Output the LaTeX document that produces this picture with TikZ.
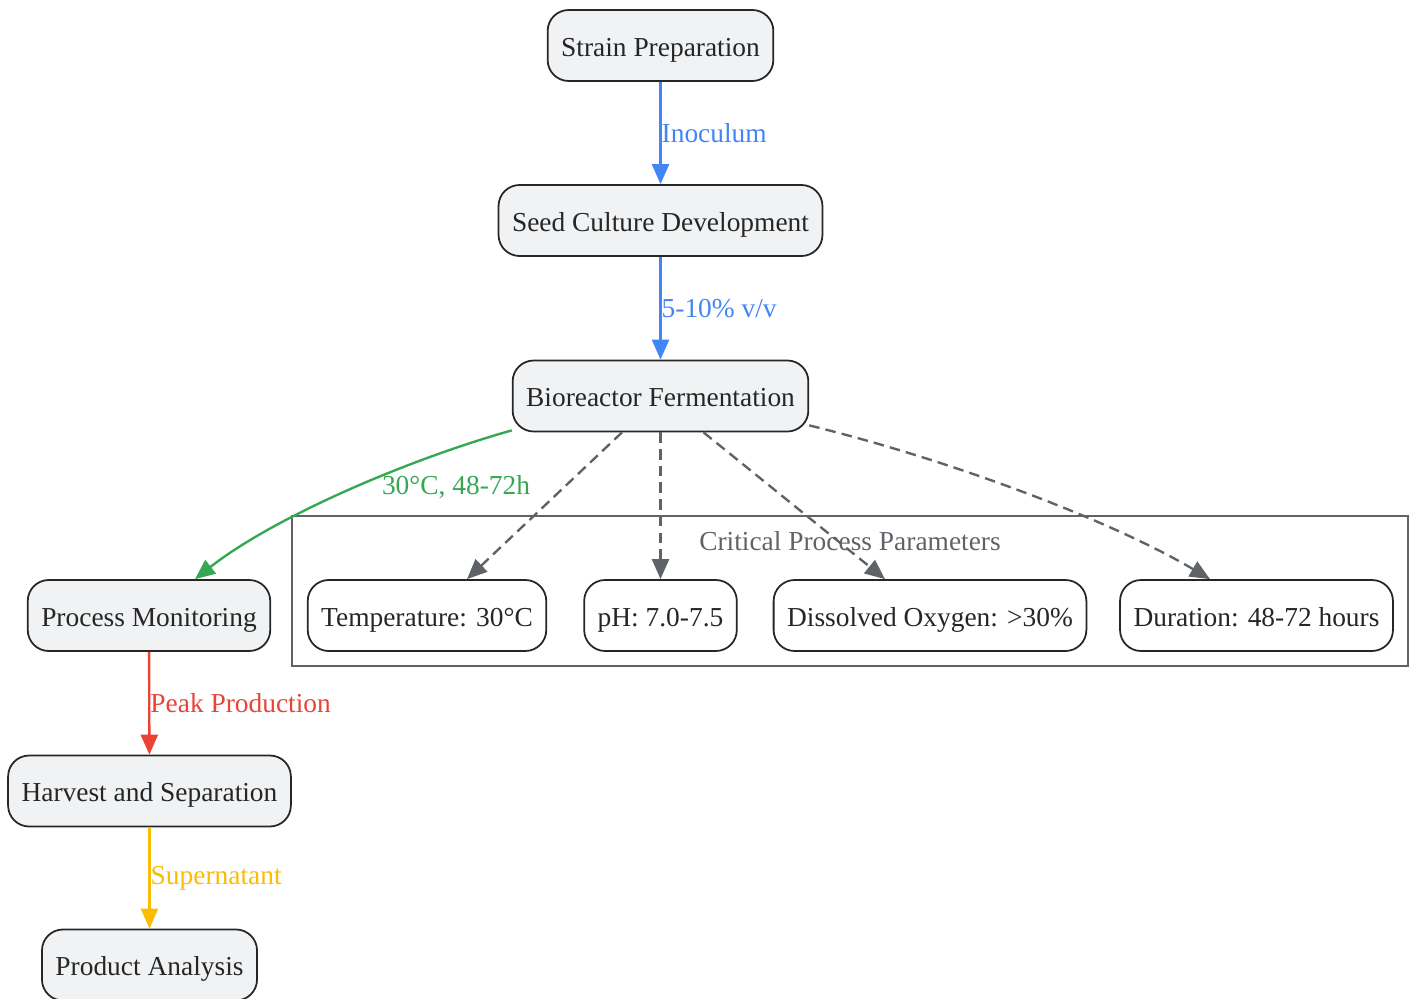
\documentclass[tikz,border=0pt]{standalone}
\usepackage{fontspec}
\setmainfont{Liberation Serif}
\usepackage{tikz}
\usetikzlibrary{arrows.meta,positioning,calc}

\definecolor{gblue}{HTML}{4285F4}
\definecolor{ggreen}{HTML}{34A853}
\definecolor{gred}{HTML}{EA4335}
\definecolor{gyellow}{HTML}{FBBC04}
\definecolor{ggray}{HTML}{5F6368}
\definecolor{nfill}{HTML}{F1F2F4}
\definecolor{ntext}{HTML}{262626}

\tikzset{
	stage/.style={draw=ntext, line width=1pt, fill=nfill, rounded corners=0.42cm,
		minimum height=1.42cm, inner xsep=0.27cm, text=ntext,
		text height=0.5cm, text depth=0.07cm,
		font=\fontsize{15.6}{18}\selectfont},
	param/.style={stage, fill=white},
	flow/.style={line width=1.35pt, -{Triangle[length=0.4cm,width=0.34cm]}},
	link/.style={flow, ggray, dashed, dash pattern=on 6pt off 3.5pt},
	lbl/.style={anchor=west, inner sep=0pt, font=\fontsize{15.6}{18}\selectfont}
}

\begin{document}
\begin{tikzpicture}
		\useasboundingbox (0,0) rectangle (28.26,-19.98);

		% cluster
		\draw[ggray, line width=0.9pt] (5.84,-10.32) rectangle (28.16,-13.32);
		\node[ggray, font=\fontsize{15.6}{18}\selectfont] (cpp) at (17.0,-10.82) {Critical Process Parameters};

		% main stages
		\node[stage] (strain) at (13.21,-0.91) {Strain Preparation};
		\node[stage] (seed) at (13.21,-4.41) {Seed Culture Development};
		\node[stage] (bio) at (13.21,-7.92) {Bioreactor Fermentation};
		\node[stage] (proc) at (2.98,-12.31) {Process Monitoring};
		\node[stage] (harv) at (2.99,-15.82) {Harvest and Separation};
		\node[stage] (prod) at (2.99,-19.3) {Product Analysis};

		% parameters
		\node[param] (temp) at (8.54,-12.31) {Temperature: 30°C};
		\node[param] (ph) at (13.21,-12.31) {pH: 7.0-7.5};
		\node[param] (do) at (18.6,-12.31) {Dissolved Oxygen: >30\%};
		\node[param] (dur) at (25.13,-12.31) {Duration: 48-72 hours};

		\draw[flow, gblue] (strain) -- (seed) node[lbl, pos=0.5]{Inoculum};
		\draw[flow, gblue] (seed) -- (bio) node[lbl, pos=0.5]{5-10\% v/v};
		\draw[flow, ggreen] ([yshift=0.04cm]bio.south west) .. controls (8.0,-9.24) and (5.4,-10.4) .. ([xshift=0.92cm]proc.north)
			node[lbl, anchor=north west, pos=0.35, xshift=-0.2cm, yshift=-0.04cm]{30°C, 48-72h};
		\draw[flow, gred] (proc) -- (harv) node[lbl, pos=0.5]{Peak Production};
		\draw[flow, gyellow] (harv) -- (prod) node[lbl, pos=0.5]{Supernatant};

		\draw[link] ([xshift=-0.77cm]bio.south) -- ([xshift=0.8cm]temp.north);
		\draw[link] (bio.south) -- (ph.north);
		\draw[link] ([xshift=0.86cm]bio.south) -- ([xshift=-0.9cm]do.north);
		\draw[link] ([yshift=0.14cm]bio.south east) .. controls (19.0,-9.2) and (22.2,-10.4) .. ([xshift=-0.93cm]dur.north);
	\end{tikzpicture}
\end{document}
